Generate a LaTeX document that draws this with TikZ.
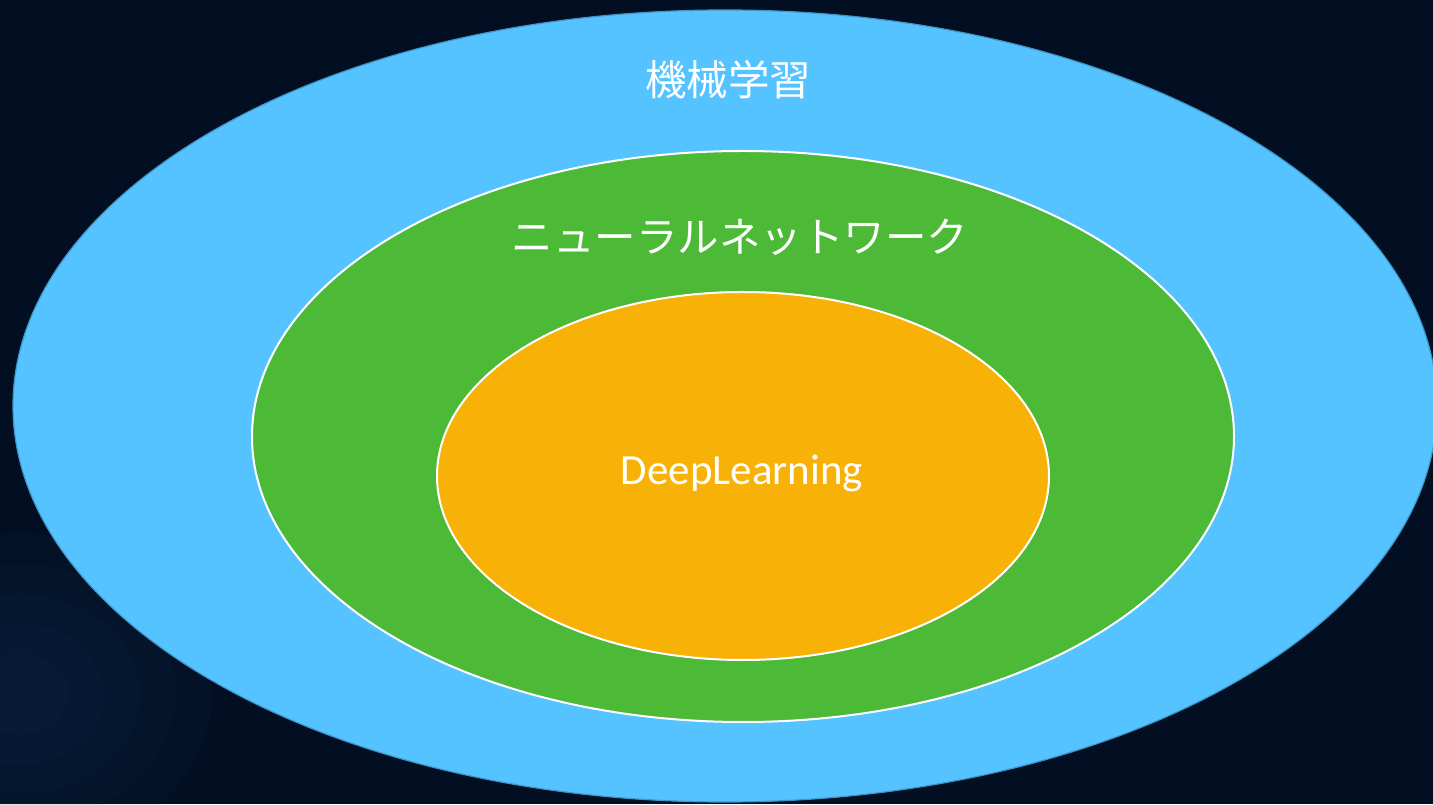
\documentclass[tikz,border=0pt]{standalone}
\usepackage{fontspec}
\setmainfont{Carlito}
\newfontfamily\cjk{Noto Sans CJK JP}
\definecolor{bg}{HTML}{020F22}
\definecolor{bgglow}{HTML}{1A3A6A}
\definecolor{mlblue}{HTML}{55C3FF}
\definecolor{mledge}{HTML}{3F95C8}
\definecolor{nngreen}{HTML}{4CB937}
\definecolor{dlorange}{HTML}{F8B107}
\begin{document}
\begin{tikzpicture}[x=1pt,y=1pt,
  lab/.style={text=white,inner sep=0pt,anchor=center}]
\useasboundingbox (0,0) rectangle (1433,804);
\fill[bg] (0,0) rectangle (1433,804);
\begin{scope}
\clip (0,0) rectangle (1433,804);
\foreach \r in {40,70,100,130,160}
  \fill[bgglow,opacity=0.07] (20,110) ellipse ({\r*1.2} and \r);
\fill[mlblue,draw=mledge,line width=1.2pt] (725,398) ellipse (712 and 396);
\end{scope}
\fill[nngreen,draw=white,line width=2pt] (743,367.5) ellipse (491 and 285.5);
\fill[dlorange,draw=white,line width=2pt] (743,328) ellipse (306 and 184);
\node[lab,font=\cjk\fontsize{41.5}{44}\selectfont] (ml) at (728,724) {機械学習};
\node[lab,font=\cjk\fontsize{41.5}{44}\selectfont] (nn) at (740,567) {ニューラルネットワーク};
\node[lab,font=\fontsize{43}{45}\selectfont] (dl) at (742,331) {DeepLearning};
\end{tikzpicture}
\end{document}
